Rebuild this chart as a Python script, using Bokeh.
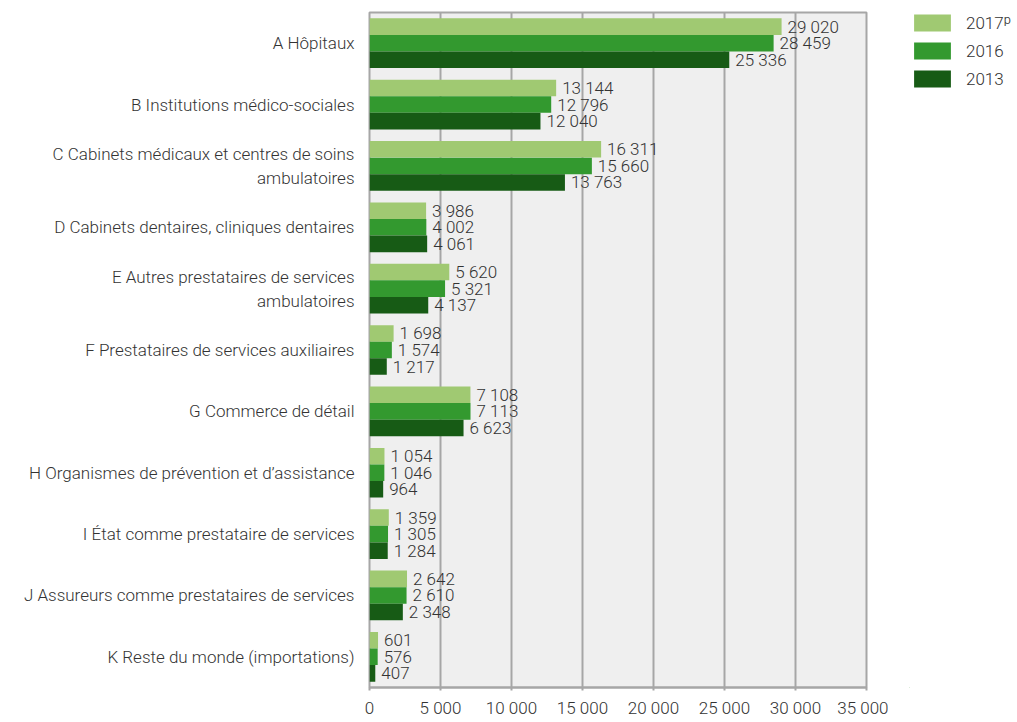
from bokeh.plotting import figure
from bokeh.layouts import row
from bokeh.models import FactorRange, Range1d, FixedTicker, Legend, LegendItem, ColumnDataSource
from bokeh.transform import dodge
from bokeh.core.properties import value
from bokeh.embed import file_html
from bokeh.resources import INLINE

categories = [
    "A Hôpitaux",
    "B Institutions médico-sociales",
    "C Cabinets médicaux et centres de soins\nambulatoires",
    "D Cabinets dentaires, cliniques dentaires",
    "E Autres prestataires de services\nambulatoires",
    "F Prestataires de services auxiliaires",
    "G Commerce de détail",
    "H Organismes de prévention et d’assistance",
    "I État comme prestataire de services",
    "J Assureurs comme prestataires de services",
    "K Reste du monde (importations)",
]
v2017 = [29020, 13144, 16311, 3986, 5620, 1698, 7108, 1054, 1359, 2642, 601]
v2016 = [28459, 12796, 15660, 4002, 5321, 1574, 7113, 1046, 1305, 2610, 576]
v2013 = [25336, 12040, 13763, 4061, 4137, 1217, 6623, 964, 1284, 2348, 407]
series_names = ["2017ᵖ", "2016", "2013"]
series_colors = ["#a0c972", "#33992f", "#175b15"]
x_ticks = [0, 5000, 10000, 15000, 20000, 25000, 30000, 35000]
x_tick_labels = ["0", "5 000", "10 000", "15 000", "20 000", "25 000", "30 000", "35 000"]


def fmt(v):
    return f"{v:,}".replace(",", " ")


FONT = "Roboto Light"
FS = "17px"
TXT = "#333333"
H = 720

p = figure(
    width=888, height=H,
    y_range=FactorRange(factors=list(reversed(categories)), range_padding=0),
    x_range=Range1d(0, 35000),
    output_backend="svg", toolbar_location=None,
    min_border_left=369, min_border_right=22, min_border_top=12, min_border_bottom=30,
)
p.background_fill_color = "#efefef"
p.border_fill_color = "white"
p.outline_line_color = "#a6a6a6"
p.outline_line_width = 2

bh = 0.27
offsets = [bh, 0.0, -bh]
series_vals = [v2017, v2016, v2013]
for name, vals, col, off in zip(series_names, series_vals, series_colors, offsets):
    src = ColumnDataSource(dict(cat=categories, val=vals, lab=[fmt(v) for v in vals]))
    p.hbar(y=dodge("cat", off, range=p.y_range), right="val", left=0, height=bh,
           source=src, color=col, line_color=None)
    p.text(x="val", y=dodge("cat", off, range=p.y_range), text="lab", source=src,
           x_offset=6, text_baseline="middle", text_align="left",
           text_font=value(FONT), text_font_size=FS, text_color=TXT)

p.xgrid.ticker = FixedTicker(ticks=x_ticks)
p.xgrid.grid_line_color = "#a6a6a6"
p.xgrid.grid_line_width = 2
p.ygrid.grid_line_color = None

p.xaxis.ticker = FixedTicker(ticks=x_ticks)
p.xaxis.major_label_overrides = {t: l for t, l in zip(x_ticks, x_tick_labels)}
p.xaxis.axis_line_color = "#a6a6a6"
p.xaxis.axis_line_width = 2
p.xaxis.major_tick_line_color = "#a6a6a6"
p.xaxis.major_tick_line_width = 2
p.xaxis.major_tick_in = 0
p.xaxis.major_tick_out = 3
p.xaxis.minor_tick_line_color = None
p.xaxis.major_label_standoff = 7
p.xaxis.major_label_text_font = FONT
p.xaxis.major_label_text_font_size = FS
p.xaxis.major_label_text_color = TXT

p.yaxis.axis_line_color = None
p.yaxis.major_tick_line_color = None
p.yaxis.minor_tick_line_color = None
p.yaxis.major_label_standoff = 9
p.yaxis.major_label_text_font = FONT
p.yaxis.major_label_text_font_size = FS
p.yaxis.major_label_text_color = TXT

# legend panel
lg = figure(width=128, height=H, x_range=Range1d(0, 1), y_range=Range1d(0, 1),
            x_axis_type=None, y_axis_type=None, output_backend="svg", toolbar_location=None,
            min_border_left=21, min_border_right=0, min_border_top=12, min_border_bottom=0)
lg.outline_line_color = None
lg.background_fill_color = "white"
lg.border_fill_color = "white"
lg.xgrid.grid_line_color = None
lg.ygrid.grid_line_color = None
items = []
for name, col in zip(series_names, series_colors):
    r = lg.hbar(y=[-5], right=[-5], left=-6, height=0.1, color=col, line_color=None)
    items.append(LegendItem(label=name, renderers=[r]))
legend = Legend(
    items=items,
    location="top_left",
    glyph_width=46, glyph_height=21, label_height=21, spacing=7, label_standoff=11,
    padding=0, margin=0, border_line_color=None, background_fill_alpha=0,
    label_text_font=FONT, label_text_font_size=FS, label_text_color=TXT,
)
lg.add_layout(legend, "center")

layout = row(p, lg)
open("out.html", "w").write(file_html(layout, INLINE))
